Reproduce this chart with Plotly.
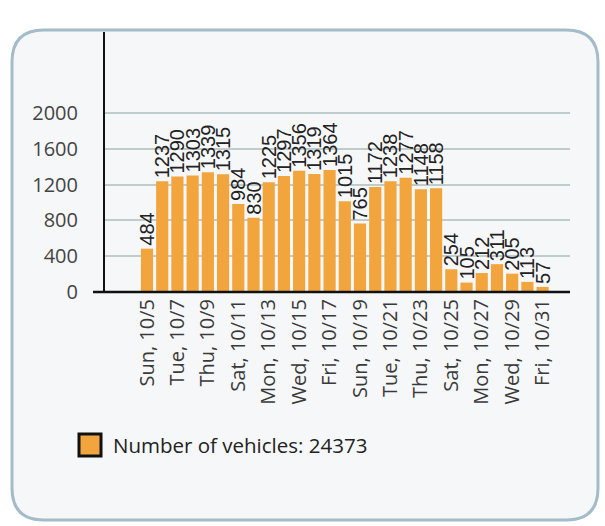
import plotly.graph_objects as go

dates = ["Sun, 10/5", "Mon, 10/6", "Tue, 10/7", "Wed, 10/8", "Thu, 10/9", "Fri, 10/10",
         "Sat, 10/11", "Sun, 10/12", "Mon, 10/13", "Tue, 10/14", "Wed, 10/15", "Thu, 10/16",
         "Fri, 10/17", "Sat, 10/18", "Sun, 10/19", "Mon, 10/20", "Tue, 10/21", "Wed, 10/22",
         "Thu, 10/23", "Fri, 10/24", "Sat, 10/25", "Sun, 10/26", "Mon, 10/27", "Tue, 10/28",
         "Wed, 10/29", "Thu, 10/30", "Fri, 10/31"]
vehicles = [484, 1237, 1290, 1303, 1339, 1315, 984, 830, 1225, 1297, 1356, 1319, 1364,
            1015, 765, 1172, 1238, 1277, 1148, 1158, 254, 105, 212, 311, 205, 113, 57]
y_ticks = [0, 400, 800, 1200, 1600, 2000]
legend_name = "Number of vehicles: 24373"

W, H = 605, 526
L, R, T, B = 105, 570, 32, 292


def px(x):
    return (x - L) / (R - L)


def py(y):
    return (B - y) / (B - T)


def rounded_rect(x0, y0, x1, y1, r):
    return (f"M{px(x0 + r)},{py(y0)} L{px(x1 - r)},{py(y0)} Q{px(x1)},{py(y0)} {px(x1)},{py(y0 + r)} "
            f"L{px(x1)},{py(y1 - r)} Q{px(x1)},{py(y1)} {px(x1 - r)},{py(y1)} "
            f"L{px(x0 + r)},{py(y1)} Q{px(x0)},{py(y1)} {px(x0)},{py(y1 - r)} "
            f"L{px(x0)},{py(y0 + r)} Q{px(x0)},{py(y0)} {px(x0 + r)},{py(y0)} Z")


fig = go.Figure()
fig.add_trace(go.Bar(
    x=dates, y=vehicles, name=legend_name,
    marker=dict(color="#f2a53c", line=dict(width=0)),
    text=[str(v) for v in vehicles], textposition="outside", textangle=-90,
    constraintext="none", cliponaxis=False,
    textfont=dict(family="Liberation Sans", size=20, color="#222222"),
    showlegend=True,
))

fig.update_layout(
    width=W, height=H,
    margin=dict(l=L, r=W - R, t=T, b=H - B, autoexpand=False),
    paper_bgcolor="white", plot_bgcolor="rgba(0,0,0,0)",
    bargap=0.2,
    font=dict(family="Open Sans", color="#333333"),
    showlegend=True,
    legend=dict(x=px(73), y=py(445), xanchor="left", yanchor="middle",
                font=dict(family="Open Sans", size=20.5, color="#222222"),
                bgcolor="rgba(0,0,0,0)"),
    xaxis=dict(
        type="category", range=[-2.76, 27.8], automargin=False,
        tickmode="array", tickvals=dates[::2], ticktext=dates[::2],
        tickangle=-90, ticks="", showgrid=False,
        showline=False, zeroline=False, ticklabelstandoff=2,
        tickfont=dict(family="Open Sans", size=20, color="#3a3a3a"),
    ),
    yaxis=dict(
        range=[0, 2905], tickmode="array", tickvals=y_ticks,
        automargin=False,
        showgrid=True, gridcolor="#bfcccc", gridwidth=2,
        showline=True, linecolor="#111111", linewidth=2,
        zeroline=False, ticks="", ticklabelstandoff=21,
        tickfont=dict(family="Open Sans", size=20, color="#444444"),
    ),
    shapes=[
        dict(type="path", xref="paper", yref="paper", path=rounded_rect(12, 30, 598, 520, 32),
             fillcolor="#f6f7f9", line=dict(color="#a3bcc8", width=3), layer="below"),
        dict(type="line", xref="paper", yref="paper", x0=px(93), x1=1, y0=0, y1=0,
             line=dict(color="#111111", width=2.5), layer="above"),
        dict(type="rect", xref="paper", yref="paper", x0=px(79), x1=px(101), y0=py(456), y1=py(434),
             fillcolor="#f2a53c", line=dict(color="#111111", width=3), layer="above"),
    ],
)

fig.write_html("out.html", config={"displayModeBar": False},
               post_script="document.body.style.margin='0';")
